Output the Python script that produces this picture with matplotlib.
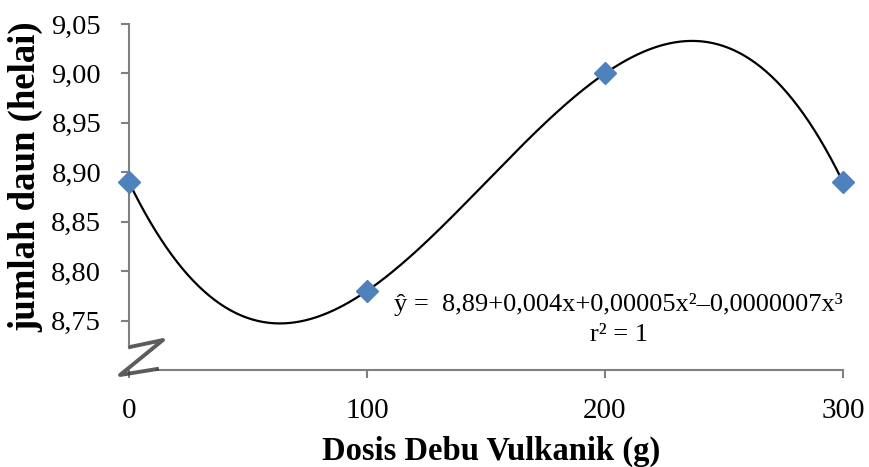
import numpy as np
import matplotlib
matplotlib.use("Agg")
import matplotlib.pyplot as plt
from matplotlib.lines import Line2D

# Data: dosis debu vulkanik vs jumlah daun
dosis = [0, 100, 200, 300]
jumlah_daun = [8.89, 8.78, 9.00, 8.89]

y_ticks = [8.75, 8.80, 8.85, 8.90, 8.95, 9.00, 9.05]
x_ticks = [0, 100, 200, 300]

plt.rcParams["font.family"] = ["Liberation Serif", "DejaVu Serif"]

fig = plt.figure(figsize=(8.69, 4.67), dpi=100)
W, H = 869, 467
# axes placed in pixel units
left, right, top, bottom = 129, 843, 24, 370
ax = fig.add_axes([left / W, 1 - bottom / H, (right - left) / W, (bottom - top) / H])

# cubic trendline through the points
coef = np.polyfit(dosis, jumlah_daun, 3)
xs = np.linspace(0, 300, 400)
ax.plot(xs, np.polyval(coef, xs), color="black", lw=1.6, zorder=2)
ax.plot(dosis, jumlah_daun, linestyle="none", marker="D", ms=11,
        color="#4F81BD", zorder=3, clip_on=False)

ax.set_xlim(0, 300)
ax.set_ylim(8.70, 9.05)
ax.set_xticks(x_ticks)
ax.set_yticks(y_ticks)
ax.set_xticklabels([str(v) for v in x_ticks])
ax.set_yticklabels([f"{v:.2f}".replace(".", ",") for v in y_ticks])

for side in ["top", "right"]:
    ax.spines[side].set_visible(False)
for side in ["left", "bottom"]:
    ax.spines[side].set_color("#808080")
    ax.spines[side].set_linewidth(1.5)
ax.spines["left"].set_bounds(8.7267, 9.05)
ax.spines["bottom"].set_bounds(11.8, 300)

ax.tick_params(axis="both", colors="#808080", width=1.5, length=6,
               labelcolor="black")
ax.tick_params(axis="x", pad=14, labelsize=21)
ax.tick_params(axis="y", pad=14, labelsize=20.5)

ax.set_xlabel("Dosis Debu Vulkanik (g)", fontsize=23.5, fontweight="bold")
ax.set_ylabel("jumlah daun (helai)", fontsize=26.5, fontweight="bold")
ax.xaxis.set_label_coords(0.507, -0.19)
ax.yaxis.set_label_coords(-0.12, 0.56)

# axis break mark
zx = [130, 163, 120, 157]
zy = [347, 340, 375, 369]
fig.add_artist(Line2D([x / W for x in zx], [1 - y / H for y in zy],
                      color="#333333", lw=2.8, alpha=0.8))

ax.text(0.9998, 0.19, "ŷ =  8,89+0,004x+0,00005x²–0,0000007x³",
        transform=ax.transAxes, ha="right", va="center", fontsize=19)
ax.text(0.686, 0.10, "r² = 1", transform=ax.transAxes, ha="center",
        va="center", fontsize=19)

fig.savefig("out.png", dpi=100)
